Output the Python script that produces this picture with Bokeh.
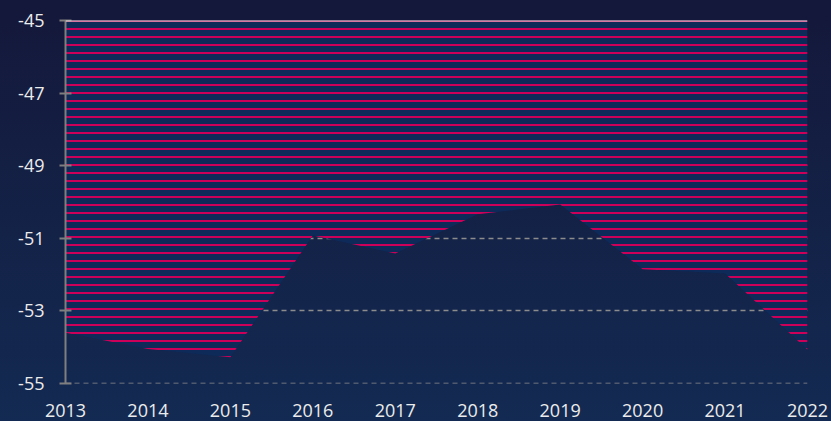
from bokeh.plotting import figure
from bokeh.models import Range1d, Span, FixedTicker, GlobalInlineStyleSheet
from bokeh.embed import file_html
from bokeh.resources import INLINE

years = [2013, 2014, 2015, 2016, 2017, 2018, 2019, 2020, 2021, 2022]
values = [-53.6, -54.05, -54.28, -50.92, -51.42, -50.34, -50.07, -51.85, -51.97, -54.07]
y_ticks = [-55, -53, -51, -49, -47, -45]
y_labels = ["-55", "-53", "-51", "-49", "-47", "-45"]

p = figure(width=831, height=421, output_backend="svg", toolbar_location=None,
           x_range=Range1d(2013, 2022), y_range=Range1d(-55, -45),
           min_border_left=65, min_border_right=24, min_border_top=20, min_border_bottom=38)

p.stylesheets = [GlobalInlineStyleSheet(css="html{min-height:100%;background:linear-gradient(to bottom,#14183a 0%,#132a52 100%);} body{background:transparent;}")]
p.border_fill_alpha = 0
p.background_fill_alpha = 0
p.outline_line_color = None

p.varea(x=years, y1=values, y2=-45, fill_color="#0d2a59",
        hatch_pattern="horizontal_line", hatch_color="#cc0058",
        hatch_scale=8, hatch_weight=2)

p.add_layout(Span(location=-45, dimension="width", line_color="#e6e6e6", line_width=2))
p.add_layout(Span(location=-55, dimension="width", line_color="#8c8c8c",
                  line_width=1.3, line_dash="5 4", level="underlay"))

yax = p.yaxis[0]
yax.ticker = FixedTicker(ticks=y_ticks)
yax.major_label_overrides = dict(zip(y_ticks, y_labels))
yax.axis_line_color = "#7f7f7f"
yax.axis_line_width = 2
yax.major_tick_line_color = "#7f7f7f"
yax.major_tick_line_width = 2
yax.major_tick_in = 6
yax.major_tick_out = 6
yax.minor_tick_line_color = None
yax.major_label_text_color = "#ececec"
yax.major_label_text_font = "Open Sans"
yax.major_label_text_font_size = "18px"
yax.major_label_standoff = 15

xax = p.xaxis[0]
xax.ticker = FixedTicker(ticks=years)
xax.axis_line_color = None
xax.major_tick_line_color = None
xax.minor_tick_line_color = None
xax.major_label_text_color = "#ececec"
xax.major_label_text_font = "Open Sans"
xax.major_label_text_font_size = "18px"
xax.major_label_standoff = 14

p.xgrid.visible = False
p.ygrid.ticker = FixedTicker(ticks=y_ticks)
p.ygrid.grid_line_color = "#8c8c8c"
p.ygrid.grid_line_dash = "5 4"
p.ygrid.grid_line_width = 1.3

open("out.html", "w").write(file_html(p, INLINE))
